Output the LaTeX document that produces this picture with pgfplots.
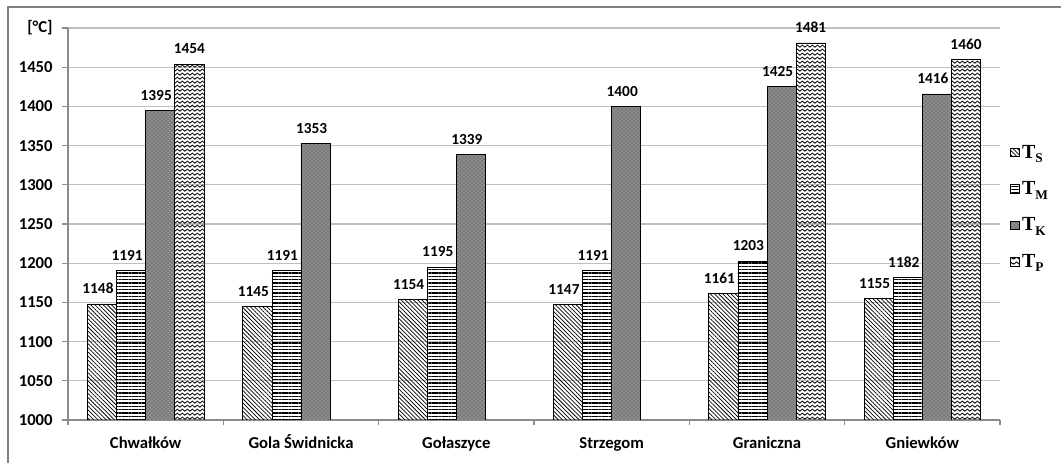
\documentclass[border=0pt]{standalone}
\usepackage{fontspec}
\setmainfont{Carlito}
\newfontfamily\legfont{Liberation Serif}
\usepackage{pgfplots}
\pgfplotsset{compat=1.18}
\usetikzlibrary{patterns,patterns.meta}

\tikzdeclarepattern{
  name=zigzag,
  type=uncolored,
  bounding box={(0pt,0pt) and (4pt,3.3pt)},
  tile size={(4pt,3.3pt)},
  code={
    \draw[line width=0.65pt] (-2pt,2.5pt) -- (0pt,0.7pt) -- (2pt,2.5pt) -- (4pt,0.7pt) -- (6pt,2.5pt);
  }
}

\newcommand{\Tsub}[1]{{\legfont\bfseries\fontsize{15}{17}\selectfont T\raisebox{-0.5ex}{\fontsize{10}{10}\selectfont #1}}}

\begin{document}
\begin{tikzpicture}
\useasboundingbox (0pt,0pt) rectangle (795.75pt,347.25pt);
\draw[black!50, line width=1.1pt] (6pt,-5pt) -- (6pt,342pt) -- (805pt,342pt);
\begin{axis}[
  at={(51pt,32.25pt)}, anchor=south west,
  scale only axis, width=699pt, height=294pt,
  ybar, bar width=0.1875,
  xmin=-0.5, xmax=5.5, ymin=1000, ymax=1500,
  xtick={0,1,2,3,4,5},
  xticklabels={Chwałków,Gola Świdnicka,Gołaszyce,Strzegom,Graniczna,Gniewków},
  minor xtick={-0.5,0.5,1.5,2.5,3.5,4.5,5.5},
  ytick={1000,1050,1100,1150,1200,1250,1300,1350,1400,1450,1500},
  yticklabels={1000,1050,1100,1150,1200,1250,1300,1350,1400,1450,{[°C]}},
  axis x line*=bottom, axis y line*=left,
  axis line style={black!45, line width=0.8pt},
  tick align=outside,
  major tick length=4.5pt, minor tick length=3.75pt,
  tick style={black!45, line width=0.8pt},
  major x tick style={draw opacity=0},
  ymajorgrids, grid style={black!25, line width=0.8pt},
  clip mode=individual,
  tick label style={font=\fontsize{12.5}{14}\selectfont\bfseries},
  xticklabel style={yshift=-5pt, text height=1.75ex, text depth=0.5ex},
  yticklabel style={xshift=-3.5pt},
  /pgf/number format/1000 sep={},
  /pgf/number format/assume math mode=true,
  nodes near coords,
  nodes near coords style={font=\fontsize{11.5}{13}\selectfont\bfseries, yshift=4pt, text=black},
  legend style={draw=none, fill=none, at={(1.0107,0.543)}, anchor=west, inner sep=0pt,
    row sep=12pt,
    /tikz/every even column/.style={column sep=3pt}},
  legend image code/.code={\draw[#1, line width=0.5pt] (0pt,-3.2pt) rectangle (6.4pt,3.2pt);},
  legend cell align=left,
]
\addplot[draw=black, line width=0.5pt, pattern={Lines[angle=-45,distance=2.2pt,line width=0.55pt]},
  bar shift=-0.28125, every node near coord/.append style={xshift=-3pt}]
  coordinates {(0,1148) (1,1145) (2,1154) (3,1147) (4,1161) (5,1155)};
\addlegendentry{\Tsub{S}}
\addplot[draw=black, line width=0.5pt, pattern={Lines[angle=0,distance=2.5pt,line width=0.9pt]},
  bar shift=-0.09375, every node near coord/.append style={xshift=-3pt}]
  coordinates {(0,1191) (1,1191) (2,1195) (3,1191) (4,1203) (5,1182)};
\addlegendentry{\Tsub{M}}
\addplot[draw=black, line width=0.5pt, fill=black!45,
  postaction={pattern=crosshatch dots, pattern color=black!75},
  bar shift=0.09375, every node near coord/.append style={xshift=-3pt}]
  coordinates {(0,1395) (1,1353) (2,1339) (3,1400) (4,1425) (5,1416)};
\addlegendentry{\Tsub{K}}
\addplot[draw=black, line width=0.5pt, pattern=zigzag, pattern color=black,
  bar shift=0.28125]
  coordinates {(0,1454) (4,1481) (5,1460)};
\addlegendentry{\Tsub{P}}
\end{axis}
\end{tikzpicture}
\end{document}
